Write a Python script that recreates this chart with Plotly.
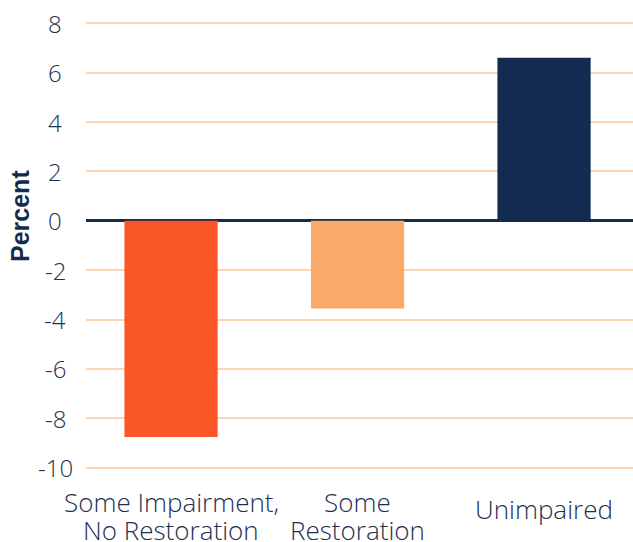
import plotly.graph_objects as go

categories = ["Some Impairment,<br>No Restoration", "Some<br>Restoration", "Unimpaired"]
values = [-8.75, -3.55, 6.6]
bar_colors = ["#fa5626", "#fbaa69", "#132b50"]
y_ticks = [8, 6, 4, 2, 0, -2, -4, -6, -8, -10]
y_title = "Percent"

fig = go.Figure()
fig.add_trace(go.Bar(
    x=[0, 1, 2], y=values, marker=dict(color=bar_colors, line=dict(width=0)),
    width=0.5, hoverinfo="skip"))

navy = "#1e2f50"
x_font = dict(size=26, color=navy, family="Open Sans", weight=300)
y_font = dict(size=24, color=navy, family="Open Sans", weight=300)

# x category labels, one annotation per line so the line spacing matches
for i, lab in enumerate(categories):
    lines = lab.split("<br>")
    if len(lines) == 1:
        shifts = [-40]
    else:
        shifts = [-33, -61]
    for line, sh in zip(lines, shifts):
        fig.add_annotation(x=i, xref="x", y=0, yref="paper", yshift=sh,
                           text=line, showarrow=False, xanchor="center", yanchor="middle",
                           align="center", font=x_font)

# y tick labels (centred column like the reference)
for v in y_ticks:
    fig.add_annotation(x=0, xref="paper", xshift=-31, y=v, yref="y",
                       text=str(v), showarrow=False, xanchor="center", yanchor="middle",
                       font=y_font)

fig.add_annotation(x=0, xref="paper", xshift=-66, y=0.566, yref="paper",
                   text=y_title, textangle=-90, showarrow=False,
                   xanchor="center", yanchor="middle",
                   font=dict(size=25, color="#142b50", family="Liberation Sans", weight=700))

fig.update_layout(
    width=633, height=542,
    margin=dict(l=86, r=0, t=22, b=73),
    paper_bgcolor="white", plot_bgcolor="white",
    showlegend=False,
    xaxis=dict(
        range=[-0.456, 2.477], tickmode="array", tickvals=[0, 1, 2],
        showticklabels=False,
        showgrid=False, zeroline=False, showline=False, ticks="",
    ),
    yaxis=dict(
        range=[-10.05, 8.05], tickmode="array", tickvals=y_ticks,
        showticklabels=False,
        showgrid=True, gridcolor="#fdd5b3", gridwidth=2,
        zeroline=True, zerolinecolor="#142b50", zerolinewidth=3,
        showline=False, ticks="",
    ),
)
fig.write_html("out.html")
